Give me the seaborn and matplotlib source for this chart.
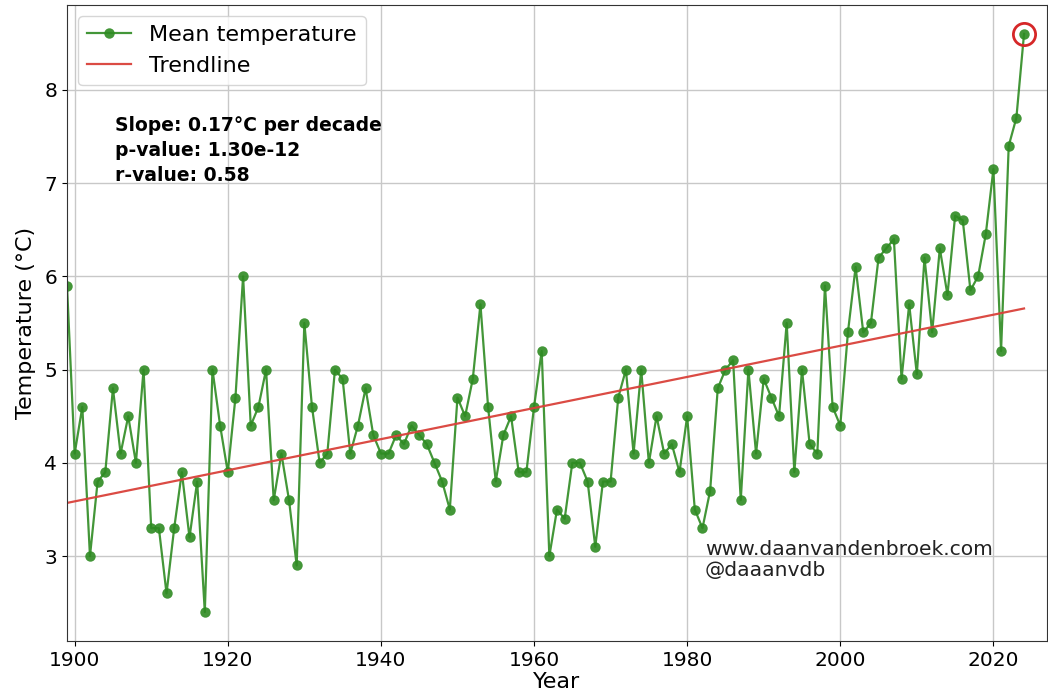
import numpy as np
import pandas as pd
import matplotlib
matplotlib.use("Agg")
import matplotlib.pyplot as plt
import seaborn as sns

years = list(range(1899, 2025))
temps = [
    5.9, 4.1, 4.6, 3.0, 3.8, 3.9, 4.8, 4.1, 4.5, 4.0,   # 1899-1908
    5.0, 3.3, 3.3, 2.6, 3.3, 3.9, 3.2, 3.8, 2.4, 5.0,   # 1909-1918
    4.4, 3.9, 4.7, 6.0, 4.4, 4.6, 5.0, 3.6, 4.1, 3.6,   # 1919-1928
    2.9, 5.5, 4.6, 4.0, 4.1, 5.0, 4.9, 4.1, 4.4, 4.8,   # 1929-1938
    4.3, 4.1, 4.1, 4.3, 4.2, 4.4, 4.3, 4.2, 4.0, 3.8,   # 1939-1948
    3.5, 4.7, 4.5, 4.9, 5.7, 4.6, 3.8, 4.3, 4.5, 3.9,   # 1949-1958
    3.9, 4.6, 5.2, 3.0, 3.5, 3.4, 4.0, 4.0, 3.8, 3.1,   # 1959-1968
    3.8, 3.8, 4.7, 5.0, 4.1, 5.0, 4.0, 4.5, 4.1, 4.2,   # 1969-1978
    3.9, 4.5, 3.5, 3.3, 3.7, 4.8, 5.0, 5.1, 3.6, 5.0,   # 1979-1988
    4.1, 4.9, 4.7, 4.5, 5.5, 3.9, 5.0, 4.2, 4.1, 5.9,   # 1989-1998
    4.6, 4.4, 5.4, 6.1, 5.4, 5.5, 6.2, 6.3, 6.4, 4.9,   # 1999-2008
    5.7, 4.95, 6.2, 5.4, 6.3, 5.8, 6.65, 6.6, 5.85, 6.0, # 2009-2018
    6.45, 7.15, 5.2, 7.4, 7.7, 8.6,                     # 2019-2024
]
stats_lines = ["Slope: 0.17°C per decade", "p-value: 1.30e-12", "r-value: 0.58"]
watermark = ["www.daanvandenbroek.com", "@daaanvdb"]

df = pd.DataFrame({"Year": years, "Temp": temps})
coef = np.polyfit(df["Year"], df["Temp"], 1)
df["Trend"] = np.polyval(coef, df["Year"])

fig = plt.figure(figsize=(10.48, 6.98), dpi=100)
ax = fig.add_axes([67/1048, 1 - 641/698, 980/1048, 636/698])

sns.lineplot(data=df, x="Year", y="Temp", ax=ax, color="#2e8b22", marker="o",
             markersize=7.5, markeredgewidth=0, linewidth=1.6,
             label="Mean temperature", alpha=0.9)
sns.lineplot(data=df, x="Year", y="Trend", ax=ax, color="#d9413a",
             linewidth=1.6, label="Trendline", alpha=0.95)
ax.plot(df["Year"].iloc[-1], df["Temp"].iloc[-1], marker="o", markersize=16,
        markerfacecolor="none", markeredgecolor="#d62728", markeredgewidth=2)

ax.set_xlim(1899, 2027)
ax.set_ylim(2.09, 8.91)
ax.set_xticks([1900, 1920, 1940, 1960, 1980, 2000, 2020])
ax.set_yticks([3, 4, 5, 6, 7, 8])
ax.grid(True, color="#c8c8c8", linewidth=1)
ax.set_axisbelow(True)
ax.tick_params(labelsize=14.5)
ax.set_xlabel("Year", fontsize=16, labelpad=2)
ax.set_ylabel("Temperature (°C)", fontsize=16, labelpad=6)
for s in ax.spines.values():
    s.set_color("#333333")

ax.legend(loc="upper left", fontsize=16, frameon=True, borderpad=0.4,
          handlelength=2.0)

ax.text(0.049, 0.825, "\n".join(stats_lines), transform=ax.transAxes,
        fontsize=13.5, fontweight="bold", va="top", ha="left", linespacing=1.4)
ax.text(0.651, 0.096, "\n".join(watermark), transform=ax.transAxes,
        fontsize=14.6, va="bottom", ha="left", color="#222222", linespacing=1.15)

fig.savefig("out.png", dpi=100)
